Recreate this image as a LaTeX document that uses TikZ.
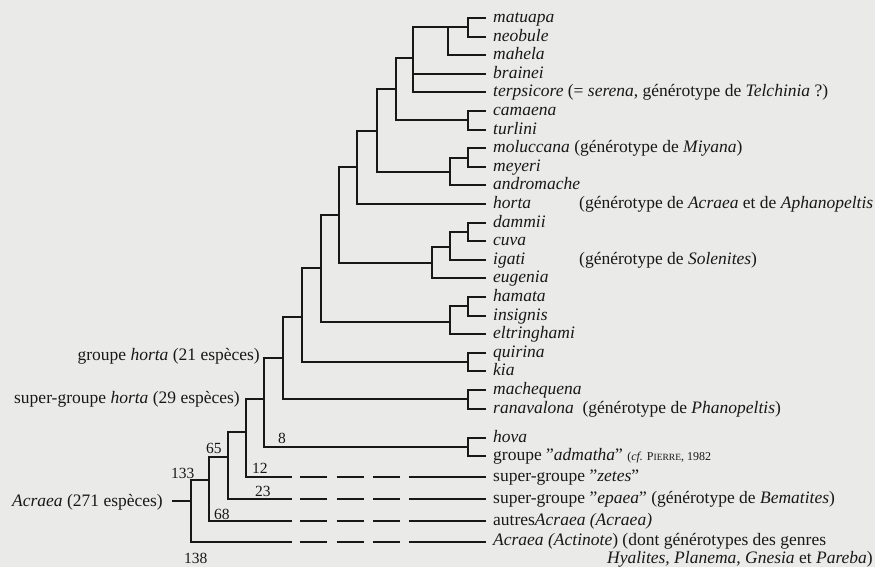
\documentclass[tikz,border=0pt]{standalone}
\usepackage{fontspec}
\setmainfont{Liberation Serif}
\definecolor{ScanPaper}{HTML}{EAEAE8}
\definecolor{InkBlack}{HTML}{181818}

\begin{document}
\begin{tikzpicture}[x=1pt,y=-1pt,
  every node/.style={font=\fontsize{17.5}{19}\selectfont,text=InkBlack,inner sep=0pt},
  branch/.style={draw=InkBlack,line width=2pt},
  gapline/.style={draw=InkBlack,line width=2pt,dash pattern=on 27pt off 9.5pt},
  taxon/.style={anchor=base west},
  clade/.style={anchor=base east},
  support/.style={font=\fontsize{15.5}{16}\selectfont,anchor=base west}]
\useasboundingbox (0,0) rectangle (875,567);
\fill[ScanPaper] (0,0) rectangle (875,567);
% terminal taxa
\foreach \n/\t [count=\i from 0] in {matuapa/{\textit{matuapa}},neobule/{\textit{neobule}},mahela/{\textit{mahela}},brainei/{\textit{brainei}},
  terpsicore/{\textit{terpsicore} (= \textit{serena}, générotype de \textit{Telchinia} ?)},camaena/{\textit{camaena}},turlini/{\textit{turlini}},
  moluccana/{\textit{moluccana} (générotype de \textit{Miyana})},meyeri/{\textit{meyeri}},andromache/{\textit{andromache}},
  horta/{\makebox[86pt][l]{\textit{horta}}(générotype de \textit{Acraea} et de \textit{Aphanopeltis}},dammii/{\textit{dammii}},cuva/{\textit{cuva}},
  igati/{\makebox[86pt][l]{\textit{igati}}(générotype de \textit{Solenites})},eugenia/{\textit{eugenia}},hamata/{\textit{hamata}},insignis/{\textit{insignis}},
  eltringhami/{\textit{eltringhami}},quirina/{\textit{quirina}},kia/{\textit{kia}},machequena/{\textit{machequena}},
  ranavalona/{\textit{ranavalona}\ \ (générotype de \textit{Phanopeltis})}}
  {\coordinate (\n) at (486,{18+18.6*\i}); \node[taxon] (t\n) at (493,{22.5+18.6*\i}) {\t};}
\coordinate(hova)at(486,438);\coordinate(admatha)at(486,456);
\node[taxon] (thova) at (493,442.5) {\textit{hova}};
\node[taxon] (tadmatha) at (493,460.5) {groupe "\textit{admatha}" {\fontsize{12}{13}\selectfont(\textit{cf.} P{\fontsize{9.5}{10}\selectfont IERRE}, 1982}};
\foreach \n/\y in {zetes/477,epaea/499,autres/521,actinote/542}
  {\coordinate (\n) at (486,\y); \coordinate (\n1) at (292,\y); \coordinate (\n2) at (300,\y); \coordinate (\n3) at (400,\y); \coordinate (\n4) at (409,\y);}
\node[taxon] (tzetes) at (493,481.5) {super-groupe "\textit{zetes}"};
\node[taxon] (tepaea) at (493,503.5) {super-groupe "\textit{epaea}" (générotype de \textit{Bematites})};
\node[taxon] (tautres) at (493,525.5) {autres\textit{Acraea (Acraea)}};
\node[taxon] (tactinote) at (493,545.5) {\textit{Acraea (Actinote}) (dont générotypes des genres};
\node[clade] (tgenres) at (873,563.5) {\textit{Hyalites, Planema, Gnesia} et \textit{Pareba})};
% internal nodes
\coordinate(nA)at(468,27.3);\coordinate(nB)at(448,27.3);\coordinate(nC)at(413,58);\coordinate(nD)at(468,120.3);
\coordinate(nE)at(396,89);\coordinate(nF)at(468,157.5);\coordinate(nG)at(450,172);\coordinate(nH)at(377,131);
\coordinate(nI)at(357,167);\coordinate(nJ)at(468,231.9);\coordinate(nK)at(450,247);\coordinate(nL)at(432,263);
\coordinate(nM)at(339,215);\coordinate(nN)at(468,306.3);\coordinate(nO)at(450,322);\coordinate(nP)at(321,268);
\coordinate(nQ)at(468,362.1);\coordinate(nR)at(302,317);\coordinate(nS)at(468,399.3);\coordinate(nT)at(283,358);
\coordinate(nU)at(468,447);\coordinate(nV)at(264,399);\coordinate(nW)at(246,432);\coordinate(nX)at(228,457);
\coordinate(nY)at(209,480);\coordinate(nZ)at(191,501);\coordinate(stub)at(172,501);
\draw[branch] (nA)|-(matuapa) (nA)|-(neobule) (nB)|-(nA) (nB)|-(mahela) (nC)|-(nB) (nC)|-(brainei) (nC)|-(terpsicore)
  (nD)|-(camaena) (nD)|-(turlini) (nE)|-(nC) (nE)|-(nD) (nF)|-(moluccana) (nF)|-(meyeri) (nG)|-(nF) (nG)|-(andromache)
  (nH)|-(nE) (nH)|-(nG) (nI)|-(nH) (nI)|-(horta) (nJ)|-(dammii) (nJ)|-(cuva) (nK)|-(nJ) (nK)|-(igati) (nL)|-(nK) (nL)|-(eugenia)
  (nM)|-(nI) (nM)|-(nL) (nN)|-(hamata) (nN)|-(insignis) (nO)|-(nN) (nO)|-(eltringhami) (nP)|-(nM) (nP)|-(nO)
  (nQ)|-(quirina) (nQ)|-(kia) (nR)|-(nP) (nR)|-(nQ) (nS)|-(machequena) (nS)|-(ranavalona) (nT)|-(nR) (nT)|-(nS)
  (nU)|-(hova) (nU)|-(admatha) (nV)|-(nT) (nV)|-(nU) (nW)|-(nV) (nX)|-(nW) (nY)|-(nX) (nZ)|-(nY) (stub)--(nZ);
\draw[branch] (nW)|-(zetes1) (zetes4)--(zetes) (nX)|-(epaea1) (epaea4)--(epaea) (nY)|-(autres1) (autres4)--(autres) (nZ)|-(actinote1) (actinote4)--(actinote);
\draw[gapline] (zetes2)--(zetes3) (epaea2)--(epaea3) (autres2)--(autres3) (actinote2)--(actinote3);
% group labels and counts
\node[clade] (lgroupe) at (260,360) {groupe \textit{horta} (21 espèces)};
\node[clade] (lsuper) at (240,403) {super-groupe \textit{horta} (29 espèces)};
\node[clade] (lacraea) at (163,506) {\textit{Acraea} (271 espèces)};
\node[support] (s133) at (171,478) {133};\node[support] (s65) at (206,453) {65};\node[support] (s8) at (278,443) {8};
\node[support] (s12) at (252,473) {12};\node[support] (s23) at (255,496) {23};\node[support] (s68) at (214,519) {68};
\node[support] (s138) at (184,563) {138};
\end{tikzpicture}
\end{document}
